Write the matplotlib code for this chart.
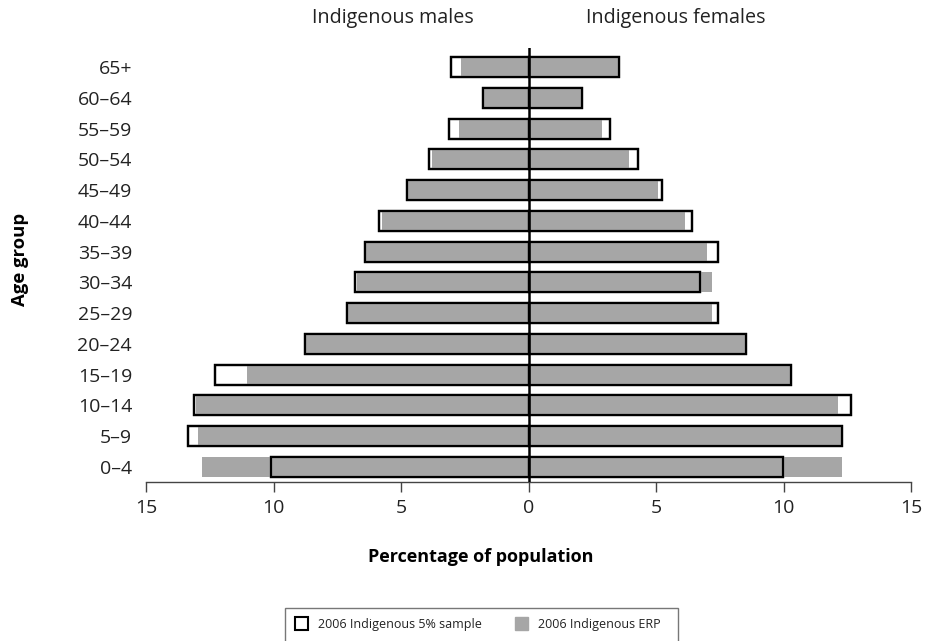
import matplotlib
matplotlib.use("Agg")
import matplotlib.pyplot as plt
from matplotlib.patches import Patch, Rectangle

plt.rcParams['font.family'] = ['Open Sans', 'DejaVu Sans']

age_groups = ["0\u20134", "5\u20139", "10\u201314", "15\u201319", "20\u201324", "25\u201329", "30\u201334",
              "35\u201339", "40\u201344", "45\u201349", "50\u201354", "55\u201359", "60\u201364", "65+"]

# 2006 Indigenous 5% sample (percent)
male_sample = [10.1, 13.35, 13.1, 12.3, 8.75, 7.1, 6.8, 6.4, 5.88, 4.77, 3.92, 3.1, 1.8, 3.03]
female_sample = [9.98, 12.3, 12.65, 10.3, 8.54, 7.44, 6.73, 7.44, 6.4, 5.22, 4.31, 3.2, 2.1, 3.55]

# 2006 Indigenous ERP (percent)
male_erp = [12.8, 12.97, 13.05, 11.03, 8.75, 7.1, 6.73, 6.4, 5.75, 4.77, 3.78, 2.73, 1.8, 2.64]
female_erp = [12.28, 12.3, 12.14, 10.3, 8.54, 7.21, 7.18, 7.01, 6.12, 5.09, 3.94, 2.9, 2.1, 3.55]

gray = "#a6a6a6"
txt = "#222222"
h = 0.65
lw = 1.6

fig = plt.figure(figsize=(9.25, 6.41), dpi=100)
ax = fig.add_axes([146 / 925, 1 - 482 / 641, (911 - 146) / 925, (482 - 48) / 641])

y = list(range(len(age_groups)))
for vals_s, vals_e, sign in [(male_sample, male_erp, -1), (female_sample, female_erp, 1)]:
    s = [sign * v for v in vals_s]
    e = [sign * v for v in vals_e]
    ax.barh(y, s, height=h, color="white", edgecolor="black", linewidth=lw, zorder=1)
    ax.barh(y, e, height=h, color=gray, linewidth=0, zorder=2)
    ax.barh(y, s, height=h, fill=False, edgecolor="black", linewidth=lw, zorder=3)

ax.axvline(0, color="black", linewidth=1.8, zorder=4)

ax.set_xlim(-15, 15)
ax.set_ylim(-0.49, 13.62)
ax.set_xticks([-15, -10, -5, 0, 5, 10, 15])
ax.set_xticklabels(["15", "10", "5", "0", "5", "10", "15"])
ax.set_yticks(y)
ax.set_yticklabels(age_groups)
ax.tick_params(axis="y", length=0, pad=10, labelsize=14, labelcolor=txt)
ax.tick_params(axis="x", length=7, width=1, pad=5, labelsize=14, labelcolor=txt, color="#444444")
for side in ["top", "right", "left"]:
    ax.spines[side].set_visible(False)
ax.spines["bottom"].set_color("#444444")
ax.spines["bottom"].set_linewidth(1)

fig.text(393 / 925, 1 - 18 / 641, "Indigenous males", ha="center", va="center", fontsize=14.2, color=txt)
fig.text(676 / 925, 1 - 18 / 641, "Indigenous females", ha="center", va="center", fontsize=14.2, color=txt)
fig.text(481 / 925, 1 - 557 / 641, "Percentage of population", ha="center", va="center",
         fontsize=13, fontweight="bold", color="black")
fig.text(20 / 925, 1 - 259 / 641, "Age group", ha="center", va="center", rotation=90,
         fontsize=13.3, fontweight="bold", color="black")

# legend frame runs off the bottom edge, as in the original
fig.patches.append(Rectangle((285 / 925, -0.02), (678 - 285) / 925, 1 - 608 / 641 + 0.02,
                             transform=fig.transFigure, fill=False, edgecolor="#777777", linewidth=1))
handles = [Patch(facecolor="white", edgecolor="black", linewidth=1.5, label="2006 Indigenous 5% sample"),
           Patch(facecolor=gray, edgecolor=gray, label="2006 Indigenous ERP")]
leg = fig.legend(handles=handles, loc="center left", ncol=2,
                 bbox_to_anchor=(289 / 925, 1 - 624 / 641),
                 fontsize=9, frameon=False, handlelength=1.0, handleheight=1.2,
                 borderpad=0, handletextpad=0.8, columnspacing=2.7)
for t in leg.get_texts():
    t.set_color(txt)

fig.savefig("out.png", dpi=100)
